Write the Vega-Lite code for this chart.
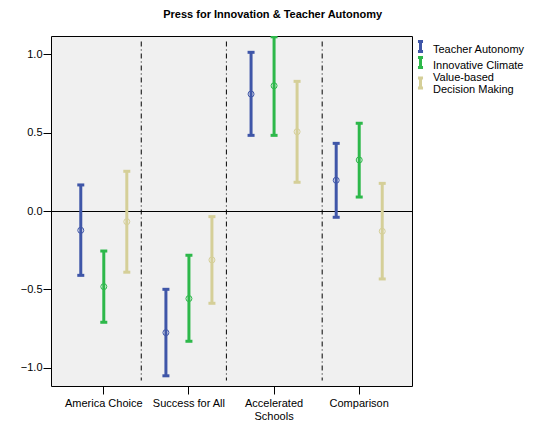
{
  "$schema": "https://vega.github.io/schema/vega-lite/v6.json",
  "autosize": "none",
  "padding": {"left": 51, "top": 36, "right": 129, "bottom": 59},
  "width": 361,
  "height": 350,
  "title": {
    "text": "Press for Innovation & Teacher Autonomy",
    "font": "Liberation Sans", "fontSize": 11, "fontWeight": "bold",
    "anchor": "middle", "frame": "bounds", "offset": 15, "color": "black"
  },
  "config": {
    "view": {"fill": "#F0F0F0", "stroke": "black", "strokeWidth": 1},
    "font": "Liberation Sans",
    "axis": {
      "labelFont": "Liberation Sans", "labelFontSize": 11, "labelColor": "black",
      "tickColor": "black", "tickSize": 8, "domain": false, "grid": false
    },
    "legend": {"labelFont": "Liberation Sans", "labelFontSize": 11, "labelColor": "black"}
  },
  "data": {
    "values": [
      {"group": "America Choice", "series": "Teacher Autonomy", "lo": -0.41, "hi": 0.166, "mean": -0.123},
      {"group": "America Choice", "series": "Innovative Climate", "lo": -0.709, "hi": -0.255, "mean": -0.482},
      {"group": "America Choice", "series": "Value-based Decision Making", "lo": -0.39, "hi": 0.253, "mean": -0.068},
      {"group": "Success for All", "series": "Teacher Autonomy", "lo": -1.05, "hi": -0.499, "mean": -0.775},
      {"group": "Success for All", "series": "Innovative Climate", "lo": -0.83, "hi": -0.282, "mean": -0.558},
      {"group": "Success for All", "series": "Value-based Decision Making", "lo": -0.588, "hi": -0.036, "mean": -0.312},
      {"group": "Accelerated Schools", "series": "Teacher Autonomy", "lo": 0.482, "hi": 1.011, "mean": 0.745},
      {"group": "Accelerated Schools", "series": "Innovative Climate", "lo": 0.482, "hi": 1.11, "mean": 0.798},
      {"group": "Accelerated Schools", "series": "Value-based Decision Making", "lo": 0.183, "hi": 0.826, "mean": 0.505},
      {"group": "Comparison", "series": "Teacher Autonomy", "lo": -0.04, "hi": 0.431, "mean": 0.196},
      {"group": "Comparison", "series": "Innovative Climate", "lo": 0.089, "hi": 0.559, "mean": 0.325},
      {"group": "Comparison", "series": "Value-based Decision Making", "lo": -0.433, "hi": 0.176, "mean": -0.129}
    ]
  },
  "encoding": {
    "x": {
      "field": "group", "type": "nominal",
      "sort": ["America Choice", "Success for All", "Accelerated Schools", "Comparison"],
      "scale": {"paddingInner": 0, "paddingOuter": 0.12},
      "axis": {
        "title": null, "labelAngle": 0, "labelPadding": 3,
        "labelExpr": "datum.label == 'Accelerated Schools' ? ['Accelerated', 'Schools'] : datum.label"
      }
    },
    "xOffset": {
      "field": "series", "type": "nominal",
      "sort": ["Teacher Autonomy", "Innovative Climate", "Value-based Decision Making"],
      "scale": {"paddingInner": 0, "paddingOuter": 0.35}
    },
    "color": {
      "field": "series", "type": "nominal",
      "sort": ["Teacher Autonomy", "Innovative Climate", "Value-based Decision Making"],
      "scale": {"range": ["#3F56A8", "#2DB84A", "#D5CF98"]},
      "legend": {
        "title": null, "orient": "none", "legendX": 362, "legendY": 6, "padding": 0,
        "symbolType": "M-0.42,-0.85H0.42M0,-0.85V0.85M-0.42,0.85H0.42",
        "symbolSize": 144, "symbolStrokeWidth": 3, "labelOffset": 5, "rowPadding": -10,
        "labelExpr": "datum.label == 'Value-based Decision Making' ? ['Value-based', 'Decision Making'] : datum.label",
        "encode": {
          "symbols": {"update": {"y": {"signal": "datum.value == 'Value-based Decision Making' ? 9 : 4.5"}}},
          "labels": {"update": {"lineHeight": {"value": 12}, "dy": {"signal": "datum.value == 'Value-based Decision Making' ? -4 : 0"}}}
        }
      }
    }
  },
  "layer": [
    {
      "mark": {"type": "rule", "color": "black", "strokeWidth": 1, "yOffset": 0.5},
      "encoding": {"y": {"datum": 0, "type": "quantitative"}, "x": null, "xOffset": null, "color": null}
    },
    {
      "transform": [{"filter": "datum.series == 'Teacher Autonomy' && datum.group != 'Comparison' && datum.group != 'Accelerated Schools'"}],
      "mark": {"type": "rule", "color": "black", "strokeWidth": 1, "strokeDash": [5, 3, 1, 3]},
      "encoding": {
        "x": {"field": "group", "type": "nominal", "bandPosition": 0.94,
              "sort": ["America Choice", "Success for All", "Accelerated Schools", "Comparison"]},
        "xOffset": null, "color": null,
        "y": {"datum": 1.08, "type": "quantitative"},
        "y2": {"datum": -1.08}
      }
    },
    {
      "transform": [{"filter": "datum.series == 'Teacher Autonomy' && datum.group == 'Accelerated Schools'"}],
      "mark": {"type": "rule", "color": "black", "strokeWidth": 1, "strokeDash": [5, 3, 1, 3]},
      "encoding": {
        "x": {"field": "group", "type": "nominal", "bandPosition": 1.065,
              "sort": ["America Choice", "Success for All", "Accelerated Schools", "Comparison"]},
        "xOffset": null, "color": null,
        "y": {"datum": 1.08, "type": "quantitative"},
        "y2": {"datum": -1.08}
      }
    },
    {
      "mark": {"type": "rule", "strokeWidth": 3},
      "encoding": {
        "y": {
          "field": "lo", "type": "quantitative",
          "scale": {"domain": [-1.115, 1.115], "nice": false, "zero": false},
          "axis": {"title": null, "values": [-1, -0.5, 0, 0.5, 1], "format": ".1f", "labelPadding": 1}
        },
        "y2": {"field": "hi"}
      }
    },
    {
      "mark": {"type": "tick", "thickness": 3, "size": 7, "opacity": 1},
      "encoding": {"y": {"field": "lo", "type": "quantitative"}}
    },
    {
      "mark": {"type": "tick", "thickness": 3, "size": 7, "opacity": 1, "clip": true},
      "encoding": {"y": {"field": "hi", "type": "quantitative"}}
    },
    {
      "mark": {"type": "point", "shape": "circle", "filled": false, "size": 36, "strokeWidth": 1, "opacity": 1},
      "encoding": {"y": {"field": "mean", "type": "quantitative"}}
    }
  ]
}
